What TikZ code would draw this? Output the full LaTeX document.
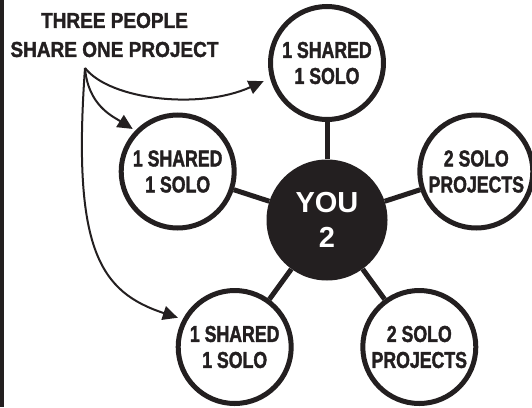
\documentclass[tikz,border=0pt]{standalone}
\usepackage{fontspec}
\setmainfont{Liberation Sans}
\newfontfamily\titlefont[FakeStretch=0.88,FakeBold=1.6]{Liberation Sans Bold}
\newfontfamily\circfont[FakeStretch=0.77,FakeBold=1.6]{Liberation Sans Bold}
\usetikzlibrary{arrows.meta}
\definecolor{ink}{HTML}{231F20}

\begin{document}
\begin{tikzpicture}[x=1pt,y=-1pt,
  sat/.style={circle,draw=ink,line width=5pt,fill=white,minimum size=113pt,inner sep=0pt,align=center,text=ink,font=\circfont\fontsize{23}{26}\selectfont},
  hub/.style={circle,fill=ink,minimum size=121pt,inner sep=0pt,align=center,text=white,font=\bfseries\fontsize{29}{35}\selectfont},
  spoke/.style={draw=ink,line width=5pt},
  pointer/.style={draw=ink,line width=2pt,-{Triangle[length=15pt,width=14pt]}}]
%\draw[help lines, color=gray!30, dashed] (0,0) grid[step=20pt] (532,407);
\useasboundingbox (0,0) rectangle (532,407);
\fill[ink] (0,0) rectangle (4,407);

\node[hub] (n0) at (327,220) {YOU\\2};

\node[sat] (n1) at (327,63) {1 SHARED\\1 SOLO};
\node[sat] (n2) at (476.3,171.5) {2 SOLO\\PROJECTS};
\node[sat] (n3) at (177.7,171.5) {1 SHARED\\1 SOLO};
\node[sat] (n4) at (234.7,347) {1 SHARED\\1 SOLO};
\node[sat] (n5) at (419.3,347) {2 SOLO\\PROJECTS};

\draw[spoke] (n0) -- (n1);
\draw[spoke] (n0) -- (n2);
\draw[spoke] (n0) -- (n3);
\draw[spoke] (n0) -- (n4);
\draw[spoke] (n0) -- (n5);

\node[align=center,text=ink,font=\titlefont\fontsize{21.6}{29}\selectfont] (title) at (114.5,35) {THREE PEOPLE\\SHARE ONE PROJECT};
\coordinate (src) at (85,68);

\draw[pointer,shorten >=7pt] (src) .. controls (110,100) and (200,110) .. (n1.195);
\draw[pointer,shorten >=3pt] (src) .. controls (88,105) and (112,116) .. (n3.136);
\draw[pointer,shorten >=5pt] (src) .. controls (72,250) and (100,292) .. (n4.152);

\end{tikzpicture}
\end{document}
